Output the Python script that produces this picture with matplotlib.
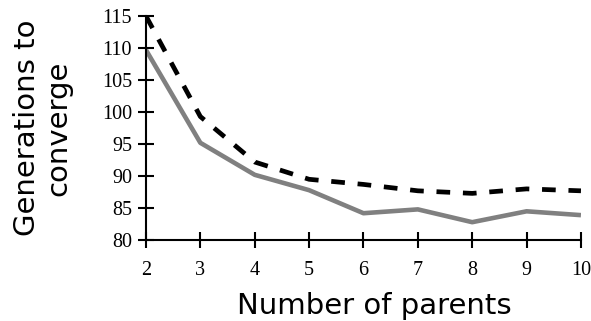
import matplotlib
matplotlib.use("Agg")
import matplotlib.pyplot as plt

# data
parents = [2, 3, 4, 5, 6, 7, 8, 9, 10]
gens_solid = [109.7, 95.2, 90.2, 87.8, 84.2, 84.8, 82.8, 84.5, 83.9]
gens_dashed = [115.0, 99.3, 92.2, 89.5, 88.7, 87.7, 87.3, 88.0, 87.7]
y_ticks = [80, 85, 90, 95, 100, 105, 110, 115]

fig = plt.figure(figsize=(5.91, 3.21), dpi=100)
ax = fig.add_axes([0.247, 0.252, 0.736, 0.698])

ax.plot(parents, gens_solid, color="#808080", linewidth=3.3, solid_capstyle="butt")
ax.plot(parents, gens_dashed, color="black", linewidth=3.4,
        dashes=(2.9, 2.7), dash_capstyle="butt")

ax.set_xlim(2, 10)
ax.set_ylim(80, 115)
ax.set_xticks(parents)
ax.set_yticks(y_ticks)

for side in ("top", "right"):
    ax.spines[side].set_visible(False)
for side in ("left", "bottom"):
    ax.spines[side].set_linewidth(1.5)
ax.tick_params(direction="inout", length=11, width=1.5)
ax.tick_params(axis="x", pad=9.5)
ax.tick_params(axis="y", pad=4.5)

for lbl in ax.get_xticklabels() + ax.get_yticklabels():
    lbl.set_family("Liberation Serif")
    lbl.set_fontsize(14.5)

ax.set_xlabel("Number of parents", fontsize=21, family="DejaVu Sans")
ax.xaxis.set_label_coords(0.524, -0.232)
ax.set_ylabel("Generations to\nconverge", fontsize=21, family="DejaVu Sans",
              labelpad=21, linespacing=1.15)

fig.savefig("out.png", dpi=100)
